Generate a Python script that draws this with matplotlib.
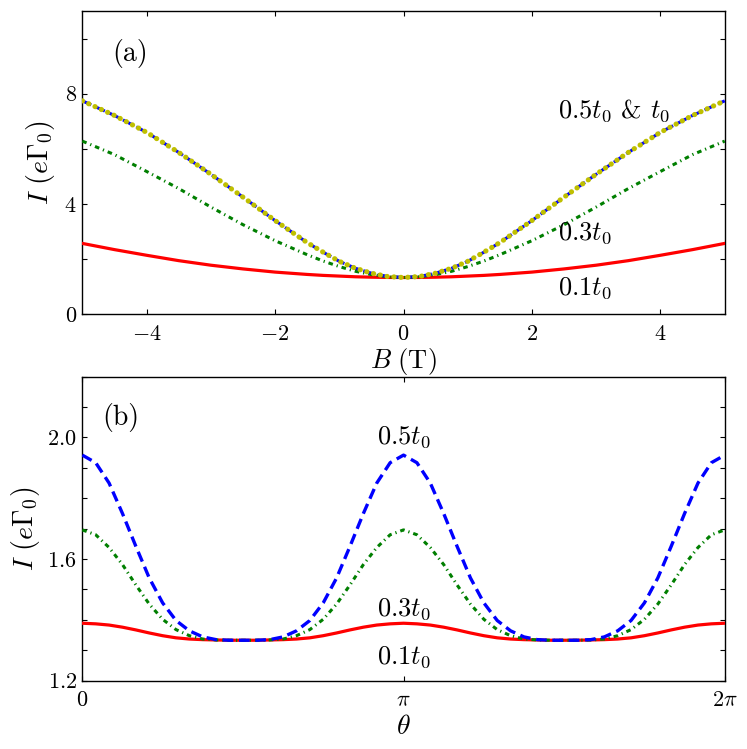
import numpy as np
import matplotlib
matplotlib.use("Agg")
import matplotlib.pyplot as plt
from matplotlib.ticker import FixedLocator, FixedFormatter, MultipleLocator, NullFormatter

plt.rcParams['mathtext.fontset'] = 'cm'
plt.rcParams['font.family'] = 'serif'
plt.rcParams['font.serif'] = ['cmr10', 'DejaVu Serif']
plt.rcParams['axes.unicode_minus'] = False

# ---------------- panel (a) data ----------------
B = [-5, -4.5, -4, -3.5, -3, -2.5, -2, -1.5, -1.25, -1, -0.75, -0.5, -0.25, 0,
     0.25, 0.5, 0.75, 1, 1.25, 1.5, 2, 2.5, 3, 3.5, 4, 4.5, 5]
I_a_01 = [2.57, 2.345, 2.14, 1.945, 1.78, 1.645, 1.53, 1.445, 1.41, 1.385, 1.36, 1.345, 1.336, 1.333,
          1.336, 1.345, 1.36, 1.385, 1.41, 1.445, 1.53, 1.645, 1.78, 1.945, 2.14, 2.345, 2.57]
I_a_03 = [6.28, 5.79, 5.18, 4.56, 3.89, 3.25, 2.67, 2.16, 1.93, 1.73, 1.56, 1.44, 1.36, 1.333,
          1.36, 1.44, 1.56, 1.73, 1.93, 2.16, 2.67, 3.25, 3.89, 4.56, 5.18, 5.79, 6.28]
I_a_05 = [7.74, 7.21, 6.60, 5.87, 5.08, 4.25, 3.40, 2.60, 2.25, 1.92, 1.67, 1.49, 1.37, 1.333,
          1.37, 1.49, 1.67, 1.92, 2.25, 2.60, 3.40, 4.25, 5.08, 5.87, 6.60, 7.21, 7.74]
I_a_10 = [7.74, 7.21, 6.60, 5.87, 5.08, 4.25, 3.40, 2.60, 2.25, 1.92, 1.67, 1.49, 1.37, 1.333,
          1.37, 1.49, 1.67, 1.92, 2.25, 2.60, 3.40, 4.25, 5.08, 5.87, 6.60, 7.21, 7.74]

# ---------------- panel (b) data ----------------
theta_steps = list(range(49))   # theta = k * pi / 24
I_b_01 = [1.389, 1.387, 1.383, 1.376, 1.367, 1.357, 1.348, 1.341, 1.337, 1.335, 1.334, 1.333, 1.333,
          1.333, 1.334, 1.335, 1.337, 1.341, 1.348, 1.357, 1.367, 1.376, 1.383, 1.387, 1.389,
          1.387, 1.383, 1.376, 1.367, 1.357, 1.348, 1.341, 1.337, 1.335, 1.334, 1.333, 1.333,
          1.333, 1.334, 1.335, 1.337, 1.341, 1.348, 1.357, 1.367, 1.376, 1.383, 1.387, 1.389]
I_b_03 = [1.696, 1.680, 1.638, 1.582, 1.515, 1.452, 1.402, 1.368, 1.348, 1.337, 1.334, 1.333, 1.333,
          1.333, 1.334, 1.337, 1.348, 1.368, 1.402, 1.452, 1.515, 1.582, 1.638, 1.680, 1.696,
          1.680, 1.638, 1.582, 1.515, 1.452, 1.402, 1.368, 1.348, 1.337, 1.334, 1.333, 1.333,
          1.333, 1.334, 1.337, 1.348, 1.368, 1.402, 1.452, 1.515, 1.582, 1.638, 1.680, 1.696]
I_b_05 = [1.942, 1.917, 1.850, 1.750, 1.642, 1.538, 1.456, 1.398, 1.364, 1.344, 1.335, 1.333, 1.333,
          1.333, 1.335, 1.344, 1.364, 1.398, 1.456, 1.538, 1.642, 1.750, 1.850, 1.917, 1.942,
          1.917, 1.850, 1.750, 1.642, 1.538, 1.456, 1.398, 1.364, 1.344, 1.335, 1.333, 1.333,
          1.333, 1.335, 1.344, 1.364, 1.398, 1.456, 1.538, 1.642, 1.750, 1.850, 1.917, 1.942]

a_yticks = [0, 4, 8]
a_yticklabels = ['$0$', '$4$', '$8$']
a_xticks = [-4, -2, 0, 2, 4]
a_xticklabels = ['$-4$', '$-2$', '$0$', '$2$', '$4$']
b_yticks = [1.2, 1.6, 2.0]
b_yticklabels = ['$1.2$', '$1.6$', '$2.0$']
b_xticks = [0, np.pi, 2 * np.pi]
b_xticklabels = ['$0$', r'$\pi$', r'$2\pi$']

theta = np.array(theta_steps) * np.pi / 24

fig = plt.figure(figsize=(7.47, 7.49), dpi=100)
ax1 = fig.add_axes([0.1102, 0.5804, 0.860, 0.405])
ax2 = fig.add_axes([0.1102, 0.0912, 0.860, 0.4059])

red = '#ff0000'
green = '#007f00'
blue = '#0000ff'
yellow = '#bfbf00'

ax1.plot(B, I_a_01, color=red, lw=2.3, zorder=3)
ax1.plot(B, I_a_03, color=green, lw=2.2, dashes=(1.5, 1.3, 0.4, 1.3), zorder=3)
ax1.plot(B, I_a_05, color=blue, lw=2.2, dashes=(3.2, 1.7), zorder=3)
ax1.plot(B, I_a_10, color=yellow, lw=3.7, dashes=(0.05, 1.3), dash_capstyle='round', zorder=4)

ax2.plot(theta, I_b_01, color=red, lw=2.3, zorder=3)
ax2.plot(theta, I_b_03, color=green, lw=2.2, dashes=(1.5, 1.3, 0.4, 1.3), zorder=3)
ax2.plot(theta, I_b_05, color=blue, lw=2.4, dashes=(3.2, 1.7), zorder=4)

ax1.set_xlim(-5, 5)
ax1.set_ylim(0, 11)
ax2.set_xlim(0, 2 * np.pi)
ax2.set_ylim(1.2, 2.2)

ax1.xaxis.set_major_locator(FixedLocator(a_xticks))
ax1.xaxis.set_major_formatter(FixedFormatter(a_xticklabels))
ax1.yaxis.set_major_locator(FixedLocator(a_yticks))
ax1.yaxis.set_major_formatter(FixedFormatter(a_yticklabels))
ax1.yaxis.set_minor_locator(MultipleLocator(2))
ax1.yaxis.set_minor_formatter(NullFormatter())

ax2.xaxis.set_major_locator(FixedLocator(b_xticks))
ax2.xaxis.set_major_formatter(FixedFormatter(b_xticklabels))
ax2.yaxis.set_major_locator(FixedLocator(b_yticks))
ax2.yaxis.set_major_formatter(FixedFormatter(b_yticklabels))
ax2.yaxis.set_minor_locator(MultipleLocator(0.1))
ax2.yaxis.set_minor_formatter(NullFormatter())

for ax in (ax1, ax2):
    for s in ax.spines.values():
        s.set_linewidth(1.0)
    ax.tick_params(which='both', direction='in', top=True, right=True,
                   length=3.5, width=0.8, labelsize=16)
    ax.tick_params(axis='x', pad=7)
    ax.tick_params(axis='y', pad=4)

ax1.set_xlabel(r'$B\ (\mathrm{T})$', fontsize=19, labelpad=2)
ax1.set_ylabel(r'$I\ (e\Gamma_0)$', fontsize=20, labelpad=5)
ax2.set_xlabel(r'$\theta$', fontsize=20, labelpad=3)
ax2.set_ylabel(r'$I\ (e\Gamma_0)$', fontsize=20, labelpad=4)

ax1.text(-4.26, 9.47, '(a)', fontsize=20, ha='center', va='center')
ax1.text(2.40, 7.4, r'$0.5t_0$ & $t_0$', fontsize=19, ha='left', va='center')
ax1.text(2.40, 2.94, r'$0.3t_0$', fontsize=19, ha='left', va='center')
ax1.text(2.40, 0.94, r'$0.1t_0$', fontsize=19, ha='left', va='center')

ax2.text(0.378, 2.067, '(b)', fontsize=20, ha='center', va='center')
ax2.text(np.pi, 2.0, r'$0.5t_0$', fontsize=19, ha='center', va='center')
ax2.text(np.pi, 1.436, r'$0.3t_0$', fontsize=19, ha='center', va='center')
ax2.text(np.pi, 1.278, r'$0.1t_0$', fontsize=19, ha='center', va='center')

fig.savefig('out.png', dpi=100)
